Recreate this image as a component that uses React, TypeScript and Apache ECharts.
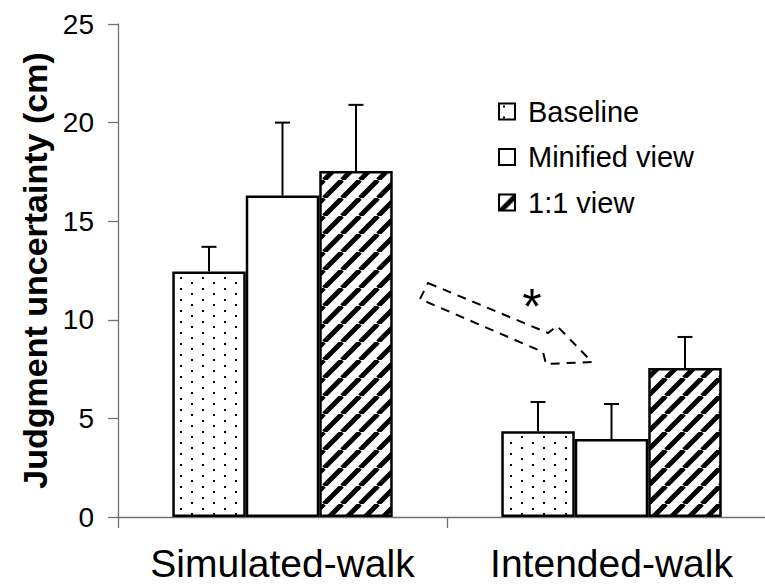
import React, { useEffect, useRef } from "react";
import * as echarts from "echarts";

const categories = ["Simulated-walk", "Intended-walk"];
const seriesNames = ["Baseline", "Minified view", "1:1 view"];
const baselineValues = [12.45, 4.35];
const minifiedValues = [16.3, 3.95];
const oneToOneValues = [17.55, 7.55];
const baselineErrors = [1.25, 1.48];
const minifiedErrors = [3.7, 1.78];
const oneToOneErrors = [3.35, 1.58];
const yTicks = { min: 0, max: 25, interval: 5 };

const FONT = "'Liberation Sans', Arial, Helvetica, sans-serif";

function makeDotPattern() {
  const w = 22;
  const h = 11;
  const c = document.createElement("canvas");
  c.width = w;
  c.height = h;
  const ctx = c.getContext("2d")!;
  ctx.fillStyle = "#fff";
  ctx.fillRect(0, 0, w, h);
  ctx.fillStyle = "#000";
  ctx.fillRect(4, 2, 2, 2);
  ctx.fillRect(15, 7, 2, 2);
  return { image: c, repeat: "repeat", imageWidth: w, imageHeight: h };
}

function makeHatchPattern() {
  const s = 18;
  const c = document.createElement("canvas");
  c.width = s;
  c.height = s;
  const ctx = c.getContext("2d")!;
  ctx.fillStyle = "#fff";
  ctx.fillRect(0, 0, s, s);
  ctx.strokeStyle = "#000";
  ctx.lineWidth = 5;
  for (const o of [-s, 0, s]) {
    ctx.beginPath();
    ctx.moveTo(o, s);
    ctx.lineTo(o + s, 0);
    ctx.stroke();
  }
  return { image: c, repeat: "repeat", imageWidth: s, imageHeight: s };
}

const CAT_GAP = 0.33;

export default function App() {
  const ref = useRef<HTMLDivElement>(null);

  useEffect(() => {
    document.body.style.margin = "0";
    if (!ref.current) return;
    const chart = echarts.init(ref.current, null, { renderer: "svg" });

    const valueSets = [baselineValues, minifiedValues, oneToOneValues];
    const errorSets = [baselineErrors, minifiedErrors, oneToOneErrors];
    const fills: any[] = [makeDotPattern(), "#ffffff", makeHatchPattern()];

    const errData: number[][] = [];
    categories.forEach((_, ci) => {
      valueSets.forEach((vals, si) => {
        errData.push([ci, si, vals[ci], vals[ci] + errorSets[si][ci]]);
      });
    });

    const axisColor = "#707070";

    chart.setOption({
      animation: false,
      grid: {
        left: 118,
        top: 24,
        bottom: 70,
        right: -11,
        containLabel: false,
        outerBoundsMode: "none",
      },
      legend: {
        data: seriesNames,
        orient: "vertical",
        left: 498,
        top: 97,
        padding: 0,
        itemWidth: 16,
        itemHeight: 16,
        itemGap: 16.5,
        icon: "rect",
        selectedMode: false,
        textStyle: {
          fontSize: 29,
          fontFamily: FONT,
          color: "#000",
          padding: [0, 0, 0, 8],
        },
      },
      xAxis: {
        type: "category",
        data: categories,
        axisLine: { show: true, lineStyle: { color: axisColor, width: 1.3 } },
        axisTick: {
          show: true,
          length: 11,
          interval: 0,
          alignWithLabel: false,
          lineStyle: { color: axisColor, width: 1.3 },
        },
        axisLabel: {
          interval: 0,
          hideOverlap: false,
          showMaxLabel: true,
          fontSize: 39,
          fontFamily: FONT,
          color: "#000",
          margin: 27,
        },
        splitLine: { show: false },
      },
      yAxis: {
        type: "value",
        min: yTicks.min,
        max: yTicks.max,
        interval: yTicks.interval,
        name: "Judgment uncertainty (cm)",
        nameLocation: "middle",
        nameGap: 63,
        nameTextStyle: {
          fontSize: 34,
          fontWeight: "bold",
          fontFamily: FONT,
          color: "#000",
        },
        axisLine: { show: true, lineStyle: { color: axisColor, width: 1.3 } },
        axisTick: {
          show: true,
          inside: false,
          length: 10,
          lineStyle: { color: axisColor, width: 1.3 },
        },
        axisLabel: {
          fontSize: 28,
          fontFamily: FONT,
          color: "#000",
          margin: 24,
        },
        splitLine: { show: false },
      },
      series: [
        ...seriesNames.map((name, si) => ({
          name,
          type: "bar",
          data: valueSets[si],
          barGap: "0%",
          barCategoryGap: CAT_GAP * 100 + "%",
          itemStyle: {
            color: fills[si],
            borderColor: "#000",
            borderWidth: 2.5,
          },
          z: 2,
        })),
        {
          type: "custom",
          name: "errors",
          data: errData,
          encode: { x: 0, y: [2, 3] },
          z: 3,
          renderItem: (params: any, api: any) => {
            const ci = api.value(0);
            const si = api.value(1);
            const lo = api.value(2);
            const hi = api.value(3);
            const p0 = api.coord([ci, lo]);
            const p1 = api.coord([ci, hi]);
            const catW = api.size([1, 0])[0];
            const bw = (catW * (1 - CAT_GAP)) / 3;
            const x = p0[0] + (si - 1) * bw;
            const st = { stroke: "#000", lineWidth: 2 };
            return {
              type: "group",
              children: [
                { type: "line", shape: { x1: x, y1: p0[1], x2: x, y2: p1[1] }, style: st },
                { type: "line", shape: { x1: x - 7.5, y1: p1[1], x2: x + 7.5, y2: p1[1] }, style: st },
              ],
            };
          },
        },
      ],
      graphic: [
        {
          type: "polygon",
          shape: {
            points: [
              [428, 283],
              [548, 333],
              [557, 326],
              [592, 362],
              [546, 364],
              [543, 352],
              [420, 299],
            ],
          },
          style: { fill: "none", stroke: "#000", lineWidth: 2, lineDash: [9, 7] },
          z: 10,
        },
        {
          type: "text",
          x: 532,
          y: 307,
          style: {
            text: "*",
            fontSize: 50,
            fontFamily: FONT,
            fill: "#000",
            align: "center",
            verticalAlign: "middle",
          },
          z: 10,
        },
      ],
    });

    return () => chart.dispose();
  }, []);

  return <div ref={ref} style={{ width: 765, height: 587 }} />;
}
